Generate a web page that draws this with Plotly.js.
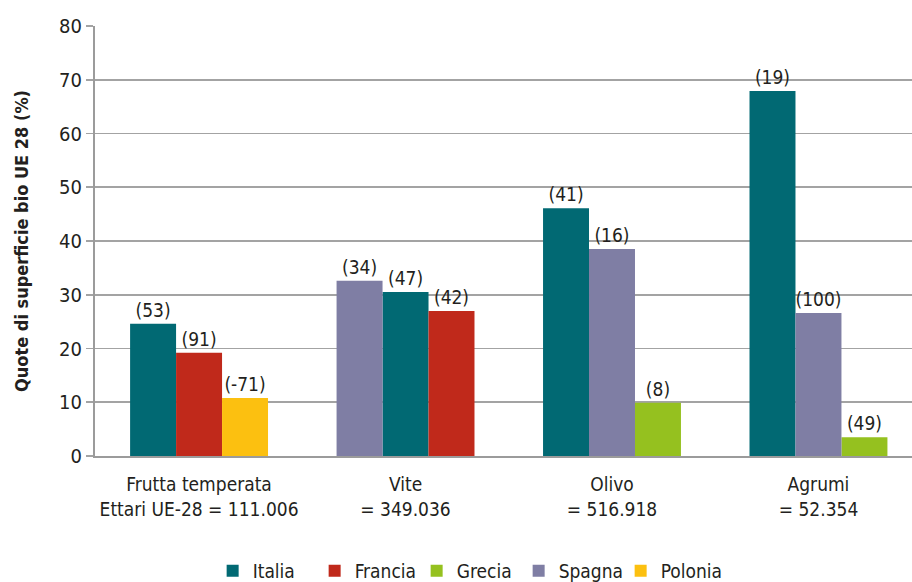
<!DOCTYPE html>
<html><head><meta charset="utf-8">
<script src="https://cdn.plot.ly/plotly-3.0.1.min.js"></script>
<style>html,body{margin:0;padding:0;background:#fff}#chart{width:912px;height:582px}</style>
</head><body><div id="chart"></div>
<script>
const categories = ['Frutta temperata<br>Ettari UE-28 = 111.006', 'Vite<br>= 349.036', 'Olivo<br>= 516.918', 'Agrumi<br>= 52.354'];
const countries = ['Italia', 'Francia', 'Grecia', 'Spagna', 'Polonia'];
const italia  = [24.6, 30.5, 46.1, 67.9];
const francia = [19.2, 27.0, null, null];
const grecia  = [null, null, 9.9, 3.5];
const spagna  = [null, 32.6, 38.5, 26.6];
const polonia = [10.8, null, null, null];
const italiaLabels  = ['(53)', '(47)', '(41)', '(19)'];
const franciaLabels = ['(91)', '(42)', '', ''];
const greciaLabels  = ['', '', '(8)', '(49)'];
const spagnaLabels  = ['', '(34)', '(16)', '(100)'];
const poloniaLabels = ['(-71)', '', '', ''];
// order of the bars inside each category
const barOrder = [
  ['Italia', 'Francia', 'Polonia'],
  ['Spagna', 'Italia', 'Francia'],
  ['Italia', 'Spagna', 'Grecia'],
  ['Italia', 'Spagna', 'Grecia']
];
const colors = {Italia: '#016973', Francia: '#C0291B', Grecia: '#95C11F', Spagna: '#7F7EA4', Polonia: '#FCC010'};
const values = {Italia: italia, Francia: francia, Grecia: grecia, Spagna: spagna, Polonia: polonia};
const labels = {Italia: italiaLabels, Francia: franciaLabels, Grecia: greciaLabels, Spagna: spagnaLabels, Polonia: poloniaLabels};

const FONT = '"DejaVu Sans Condensed", "DejaVu Sans", sans-serif';
const groupW = 0.668, barW = groupW / 3;
const xs = categories.map((c, i) => i);

const traces = countries.map(name => {
  const offs = xs.map(i => {
    const k = barOrder[i].indexOf(name);
    return k < 0 ? 0 : -groupW / 2 + k * barW;
  });
  return {
    type: 'bar', name: name, x: xs, y: values[name],
    offset: offs, width: barW,
    marker: {color: colors[name], line: {width: 0}},
    text: labels[name], textposition: 'outside', cliponaxis: false,
    textfont: {family: FONT, size: 19, color: '#231F20'},
    hoverinfo: 'skip'
  };
});

const layout = {
  width: 912, height: 582,
  margin: {l: 95, r: 0, t: 26, b: 126},
  paper_bgcolor: '#fff', plot_bgcolor: '#fff',
  barmode: 'overlay',
  font: {family: FONT, size: 19, color: '#231F20'},
  showlegend: true,
  legend: {orientation: 'h', x: 0.144, xanchor: 'left', yref: 'container', y: 0.019, yanchor: 'middle',
           entrywidthmode: 'pixels', entrywidth: 57, traceorder: 'normal', itemgap: 0,
           font: {family: FONT, size: 19, color: '#231F20'}},
  xaxis: {range: [-0.504, 3.453], tickvals: xs, ticktext: categories,
          showgrid: false, zeroline: false, showline: true, linecolor: '#9B9B9B', linewidth: 2,
          ticks: '', ticklabelstandoff: 10, tickfont: {family: FONT, size: 19}},
  yaxis: {range: [0, 80], dtick: 10, showgrid: true, gridcolor: '#A3A3A3', gridwidth: 1.6,
          zeroline: false, showline: true, linecolor: '#9B9B9B', linewidth: 2,
          ticks: 'outside', ticklen: 7, tickcolor: '#A3A3A3', tickwidth: 1.6, ticklabelstandoff: 0,
          tickfont: {family: FONT, size: 20},
          title: {text: '<b>Quote di superficie bio UE 28 (%)</b>', standoff: 26,
                  font: {family: FONT, size: 18, color: '#231F20'}}}
};
Plotly.newPlot('chart', traces, layout, {displayModeBar: false, staticPlot: true});
</script></body></html>
